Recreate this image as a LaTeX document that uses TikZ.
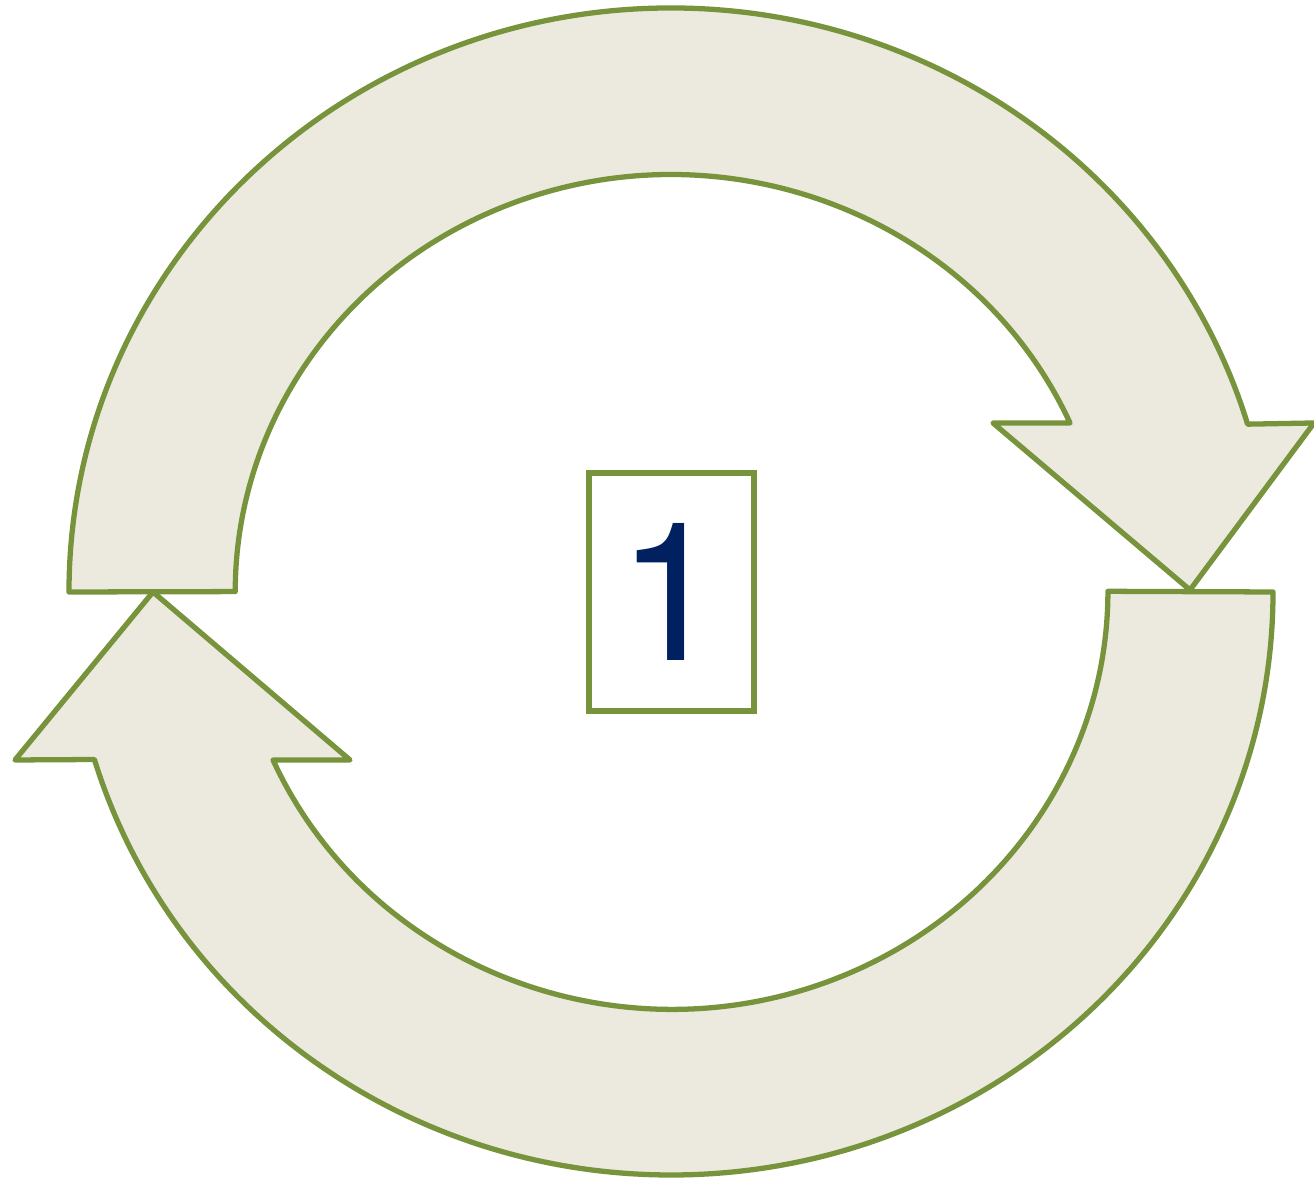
\documentclass[tikz,border=0pt]{standalone}
\usepackage{fontspec}
\newfontfamily\numfont{TeX Gyre Heros}
\usetikzlibrary{positioning, calc}
\definecolor{oliveLine}{HTML}{77933C}
\definecolor{paleFill}{HTML}{ECEADF}
\definecolor{navyText}{HTML}{002060}

\begin{document}
\begin{tikzpicture}[
    cycleArrow/.style={draw=oliveLine, fill=paleFill, line width=1.5pt, line join=round},
    numBox/.style={rectangle, draw=oliveLine, fill=white, line width=1.5pt,
                   minimum width=1.65cm, minimum height=2.38cm, inner sep=0pt,
                   font=\numfont\fontsize{55}{60}\selectfont\color{navyText}},
  ]
    \useasboundingbox (0,0) rectangle (13.14,11.79);
    \coordinate (c) at (6.71,5.87);

    % upper arrow, pointing down on the right
    \draw[cycleArrow] (0.69,5.87)
      arc[start angle=180, end angle=16.7, x radius=6.02cm, y radius=5.84cm]
      -- (13.14,7.56) -- (11.90,5.89) -- (9.93,7.56) -- (10.70,7.56)
      arc[start angle=23.85, end angle=180, x radius=4.36cm, y radius=4.17cm]
      -- cycle;

    % lower arrow, pointing up on the left
    \draw[cycleArrow] (12.73,5.87)
      arc[start angle=0, end angle=-163.3, x radius=6.02cm, y radius=5.83cm]
      -- (0.15,4.19) -- (1.53,5.87) -- (3.50,4.19) -- (2.73,4.19)
      arc[start angle=-156.2, end angle=0, x radius=4.36cm, y radius=4.18cm]
      -- cycle;

    \node[numBox] (step1) at (6.715,5.87) {1};
\end{tikzpicture}
\end{document}
